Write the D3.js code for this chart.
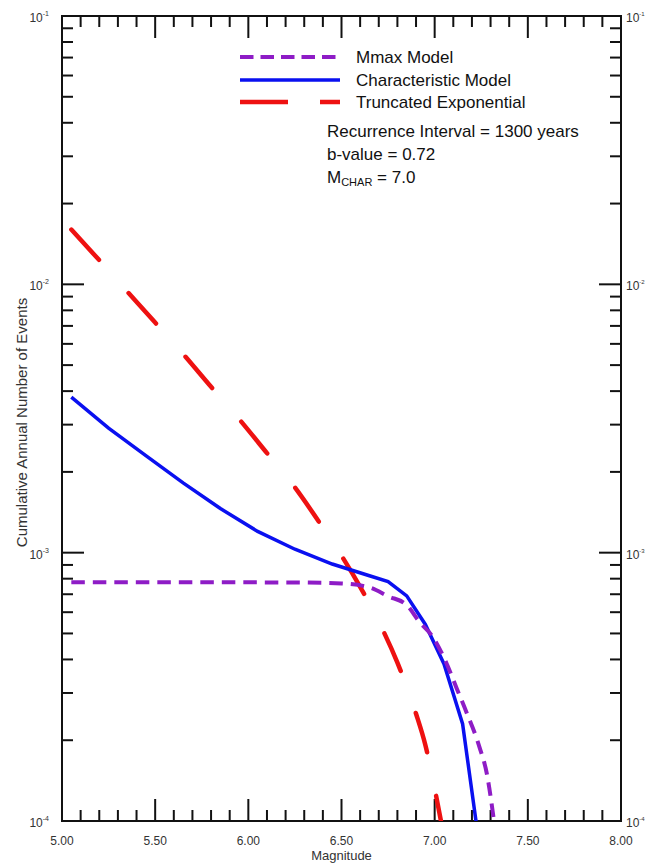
<!DOCTYPE html>
<html>
<head>
<meta charset="utf-8">
<script src="https://cdnjs.cloudflare.com/ajax/libs/d3/7.8.5/d3.min.js"></script>
<style>
  body { margin: 0; background: #fff; }
  text { font-family: "Liberation Sans", Arial, sans-serif; }
</style>
</head>
<body>
<svg id="chart" width="646" height="863"></svg>
<script>
// ---- data ----
var mmax_mag  = [5.05, 5.50, 6.00, 6.30, 6.50, 6.65, 6.75, 6.85, 6.92, 6.99, 7.06, 7.12, 7.17, 7.24, 7.28, 7.32];
var mmax_rate = [7.75e-4, 7.75e-4, 7.75e-4, 7.74e-4, 7.68e-4, 7.42e-4, 6.88e-4, 6.38e-4, 5.5e-4, 4.85e-4, 3.92e-4, 3.1e-4, 2.55e-4, 1.89e-4, 1.5e-4, 9.8e-5];

var char_mag  = [5.05, 5.25, 5.45, 5.65, 5.85, 6.05, 6.25, 6.45, 6.65, 6.75, 6.85, 6.95, 7.05, 7.15, 7.25];
var char_rate = [3.8e-3, 2.91e-3, 2.3e-3, 1.82e-3, 1.46e-3, 1.2e-3, 1.03e-3, 9.07e-4, 8.2e-4, 7.8e-4, 6.9e-4, 5.4e-4, 3.85e-4, 2.3e-4, 7.2e-5];

var trunc_mag  = [5.05, 5.20, 5.35, 5.50, 5.65, 5.80, 5.95, 6.10, 6.25, 6.40, 6.50, 6.60, 6.70, 6.80, 6.90, 6.95, 7.00, 7.04];
var trunc_rate = [1.6e-2, 1.23e-2, 9.4e-3, 7.2e-3, 5.5e-3, 4.15e-3, 3.15e-3, 2.35e-3, 1.75e-3, 1.24e-3, 9.75e-4, 7.46e-4, 5.53e-4, 3.89e-4, 2.51e-4, 1.92e-4, 1.32e-4, 9.5e-5];

var x_tick_labels = ["5.00", "5.50", "6.00", "6.50", "7.00", "7.50", "8.00"];
var y_tick_exps   = ["-4", "-3", "-2", "-1"];

var series_names = ["Mmax Model", "Characteristic Model", "Truncated Exponential"];

// ---- layout ----
var svg = d3.select("#chart");
var plot_left = 62, plot_right = 621, plot_top = 16, plot_bottom = 821;
var purple = "#8e1cc6", blue = "#0a10f0", red = "#ee1111";

var x_scale = d3.scaleLinear().domain([5, 8]).range([plot_left, plot_right]);
var y_scale = d3.scaleLog().domain([1e-4, 1e-1]).range([plot_bottom, plot_top]);

svg.append("rect").attr("width", 646).attr("height", 863).attr("fill", "#fff");

svg.append("clipPath").attr("id", "plot-clip")
  .append("rect")
  .attr("x", plot_left).attr("y", plot_top)
  .attr("width", plot_right - plot_left).attr("height", plot_bottom - plot_top);

// ---- ticks ----
var tick_group = svg.append("g").attr("stroke", "#111").attr("stroke-width", 2);

// x ticks every 0.1, major every 0.5
var x_ticks = d3.range(0, 31).map(function (i) { return 5 + i * 0.1; });
x_ticks.forEach(function (v, i) {
  var len = (i % 5 === 0) ? 22 : 11;
  var px = x_scale(v);
  tick_group.append("line").attr("x1", px).attr("x2", px).attr("y1", plot_bottom).attr("y2", plot_bottom - len);
  tick_group.append("line").attr("x1", px).attr("x2", px).attr("y1", plot_top).attr("y2", plot_top + len);
});

// y ticks: decades long, 2..9 short
var y_ticks = [];
[-4, -3, -2].forEach(function (d) {
  y_ticks.push({ v: Math.pow(10, d), major: true });
  for (var k = 2; k <= 9; k++) y_ticks.push({ v: k * Math.pow(10, d), major: false });
});
y_ticks.push({ v: 1e-1, major: true });
y_ticks.forEach(function (t) {
  var len = t.major ? 22 : 11;
  var py = y_scale(t.v);
  tick_group.append("line").attr("x1", plot_left).attr("x2", plot_left + len).attr("y1", py).attr("y2", py);
  tick_group.append("line").attr("x1", plot_right).attr("x2", plot_right - len).attr("y1", py).attr("y2", py);
});

// frame
svg.append("rect")
  .attr("x", plot_left).attr("y", plot_top)
  .attr("width", plot_right - plot_left).attr("height", plot_bottom - plot_top)
  .attr("fill", "none").attr("stroke", "#111").attr("stroke-width", 2);

// ---- tick labels ----
x_tick_labels.forEach(function (lab) {
  svg.append("text")
    .attr("x", x_scale(+lab)).attr("y", 845)
    .attr("text-anchor", "middle")
    .style("font-size", "12px").style("fill", "#333")
    .text(lab);
});

y_tick_exps.forEach(function (e) {
  var py = y_scale(Math.pow(10, +e));
  // left side
  var t = svg.append("text")
    .attr("x", 49).attr("y", py + 6)
    .attr("text-anchor", "end")
    .style("font-size", "12px").style("fill", "#333");
  t.append("tspan").text("10");
  t.append("tspan").attr("dy", -6).style("font-size", "7px").text(e);
  // right side, squeezed against the picture edge
  var r = svg.append("text")
    .attr("x", 626).attr("y", py + 6)
    .style("font-size", "12px").style("fill", "#333");
  r.append("tspan").text("10");
  r.append("tspan").attr("dy", -6).style("font-size", "6px").text(e);
});

// axis titles
svg.append("text")
  .attr("x", (plot_left + plot_right) / 2).attr("y", 860)
  .attr("text-anchor", "middle")
  .style("font-size", "13px").style("fill", "#333")
  .text("Magnitude");

svg.append("text")
  .attr("transform", "translate(27," + ((plot_top + plot_bottom) / 2 + 4) + ") rotate(-90)")
  .attr("text-anchor", "middle")
  .style("font-size", "15px").style("fill", "#333")
  .text("Cumulative Annual Number of Events");

// ---- curves ----
var curve_group = svg.append("g").attr("clip-path", "url(#plot-clip)");

function make_line(curve) {
  return d3.line()
    .x(function (d) { return x_scale(d[0]); })
    .y(function (d) { return y_scale(d[1]); })
    .curve(curve);
}

curve_group.append("path")
  .datum(d3.zip(trunc_mag, trunc_rate))
  .attr("d", make_line(d3.curveMonotoneX))
  .attr("fill", "none").attr("stroke", red).attr("stroke-width", 4.5)
  .attr("stroke-linecap", "round")
  .attr("stroke-dasharray", "41,44.5");

curve_group.append("path")
  .datum(d3.zip(char_mag, char_rate))
  .attr("d", make_line(d3.curveLinear))
  .attr("fill", "none").attr("stroke", blue).attr("stroke-width", 3.5);

curve_group.append("path")
  .datum(d3.zip(mmax_mag, mmax_rate))
  .attr("d", make_line(d3.curveMonotoneX))
  .attr("fill", "none").attr("stroke", purple).attr("stroke-width", 4)
  .attr("stroke-dasharray", "13.5,8");

// ---- legend ----
var legend_x1 = 240, legend_x2 = 340, legend_text_x = 356;
var legend_rows = [
  { y: 57,  color: purple, dash: "13.5,7", width: 4 },
  { y: 80,  color: blue,   dash: null,     width: 3.5 },
  { y: 102, color: red,    dash: "48,32",  width: 4.5 }
];
legend_rows.forEach(function (row, i) {
  var ln = svg.append("line")
    .attr("x1", legend_x1).attr("x2", legend_x2)
    .attr("y1", row.y).attr("y2", row.y)
    .attr("stroke", row.color).attr("stroke-width", row.width);
  if (row.dash) ln.attr("stroke-dasharray", row.dash);
  svg.append("text")
    .attr("x", legend_text_x).attr("y", row.y + 6)
    .style("font-size", "17px").style("fill", "#111")
    .text(series_names[i]);
});

// annotation
var note_x = 327;
svg.append("text").attr("x", note_x).attr("y", 137)
  .style("font-size", "17px").style("fill", "#111")
  .text("Recurrence Interval = 1300 years");
svg.append("text").attr("x", note_x).attr("y", 160)
  .style("font-size", "17px").style("fill", "#111")
  .text("b-value = 0.72");
var m_char = svg.append("text").attr("x", note_x).attr("y", 183)
  .style("font-size", "17px").style("fill", "#111");
m_char.append("tspan").text("M");
m_char.append("tspan").attr("dy", 3).style("font-size", "11px").text("CHAR");
m_char.append("tspan").attr("dy", -3).text(" = 7.0");
</script>
</body>
</html>
